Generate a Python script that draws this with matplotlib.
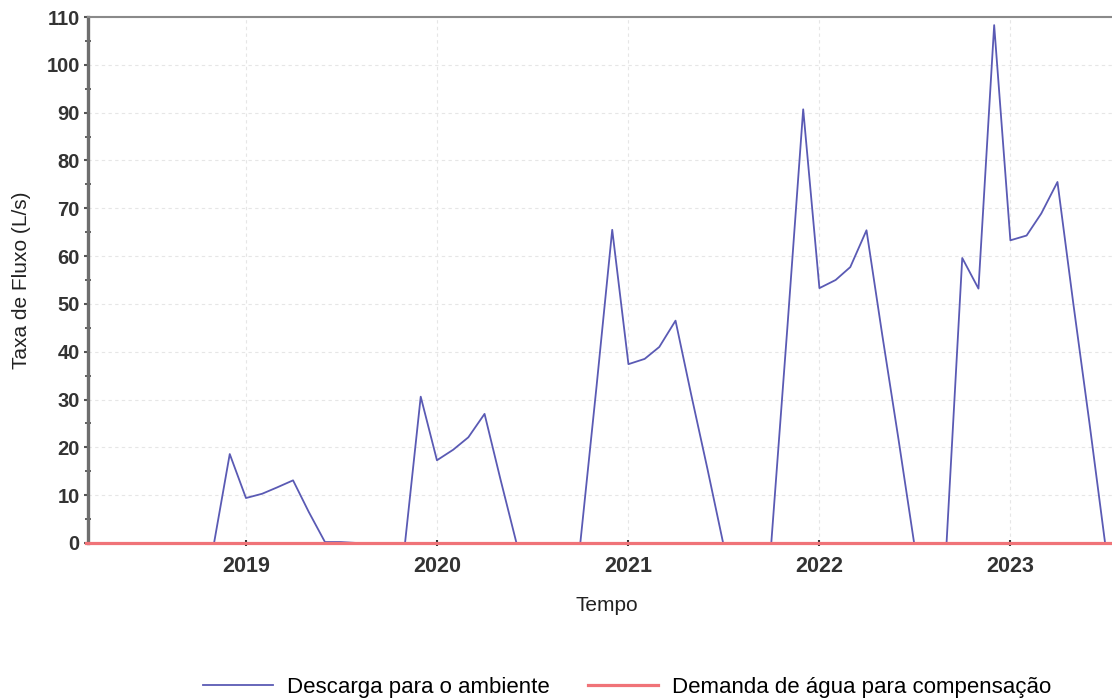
import pandas as pd
import matplotlib.pyplot as plt
from matplotlib.ticker import MultipleLocator

# --- Dados (mensais) ---
inicio_descarga = "2018-11-01"
descarga = [
    0, 18.6,                                   # nov-dez 2018
    9.4, 10.3, 11.6, 13.1, 6.5, 0.2, 0.2, 0, 0, 0, 0, 30.6,     # 2019
    17.3, 19.5, 22.1, 27.0, 13.5, 0, 0, 0, 0, 0, 32.7, 65.5,    # 2020
    37.4, 38.5, 41.0, 46.5, 31.0, 15.5, 0, 0, 0, 0, 45.4, 90.7, # 2021
    53.3, 55.0, 57.7, 65.4, 43.6, 21.8, 0, 0, 0, 59.6, 53.2, 108.3,  # 2022
    63.3, 64.3, 68.9, 75.5, 50.3, 25.2, 0,     # 2023
]
inicio_demanda = "2018-03-01"
fim_demanda = "2023-09-01"

anos = ["2019", "2020", "2021", "2022", "2023"]
rotulos = ["Descarga para o ambiente", "Demanda de água para compensação"]

datas_descarga = pd.date_range(inicio_descarga, periods=len(descarga), freq="MS")
datas_demanda = pd.date_range(inicio_demanda, fim_demanda, freq="MS")
demanda = [0] * len(datas_demanda)

plt.rcParams['font.family'] = ['Liberation Sans', 'DejaVu Sans']

fig = plt.figure(figsize=(11.12, 7), dpi=100)
ax = fig.add_axes([0.0791, 0.2243, 0.9335, 0.7514])

l1, = ax.plot(datas_descarga, descarga, color="#5a5ab4", lw=1.3, zorder=3)
l2, = ax.plot(datas_demanda, demanda, color="#f07378", lw=2.3, zorder=4, clip_on=False)

ax.set_ylim(0, 110)
ax.set_xlim(pd.Timestamp("2018-03-05"), pd.Timestamp("2023-08-10"))

ax.yaxis.set_major_locator(MultipleLocator(10))
ax.yaxis.set_minor_locator(MultipleLocator(5))
ax.set_xticks([pd.Timestamp(a + "-01-01") for a in anos])
ax.set_xticklabels(anos)

# --- Estilo dos eixos ---
for s in ["right", "bottom"]:
    ax.spines[s].set_visible(False)
ax.spines["left"].set_color("#6e6e6e")
ax.spines["left"].set_linewidth(2.4)
ax.spines["top"].set_color("#8a8a8a")
ax.spines["top"].set_linewidth(1.5)

ax.tick_params(axis="y", which="major", direction="out", length=3, width=1.5,
               color="#555555", pad=3, labelsize=14.5, labelcolor="#333333")
ax.tick_params(axis="y", which="minor", direction="inout", length=5, width=1.3,
               color="#555555")
ax.tick_params(axis="x", which="major", direction="inout", length=5, width=1.5,
               color="#333333", pad=7, labelsize=15.5, labelcolor="#333333")
for t in ax.get_yticklabels() + ax.get_xticklabels():
    t.set_fontweight("bold")

ax.grid(True, which="major", linestyle=(0, (3, 3)), color="#e6e6e6", lw=0.8)
ax.set_axisbelow(True)

ax.set_ylabel("Taxa de Fluxo (L/s)", fontsize=15, color="#222222")
ax.yaxis.set_label_coords(-0.055, 0.5)
ax.set_xlabel("Tempo", fontsize=15, color="#222222")
ax.xaxis.set_label_coords(0.5, -0.1)

fig.legend([l1, l2], rotulos, loc="center", ncol=2, frameon=False,
           bbox_to_anchor=(0.564, 0.018), handlelength=3.15, columnspacing=1.75,
           handletextpad=0.6, fontsize=16)

fig.savefig("out.png", dpi=100, facecolor="white")
